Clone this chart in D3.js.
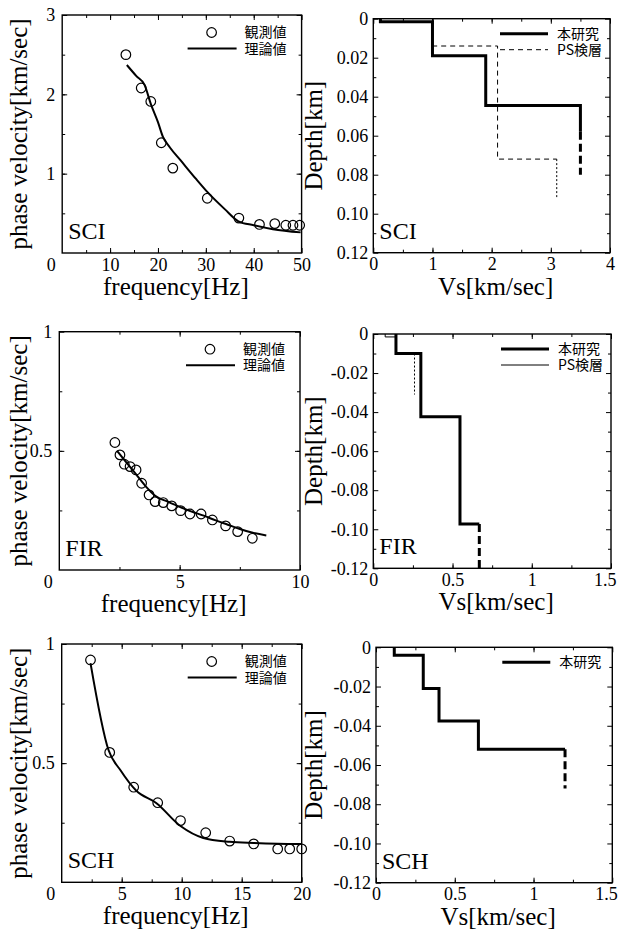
<!DOCTYPE html>
<html><head><meta charset="utf-8">
<script src="https://cdn.jsdelivr.net/npm/d3@7"></script>
<style>body{margin:0;background:#fff}svg{display:block}</style>
</head><body><svg id="c" width="619" height="931"></svg>
<script>
// ---------------- DATA ----------------
// SCI dispersion
const sciObsFreq  = [13.3, 16.5, 18.5, 20.7, 23.1, 30.3, 36.9, 41.2, 44.4, 46.7, 48.2, 49.6];
const sciObsVel   = [2.50, 2.08, 1.91, 1.39, 1.07, 0.69, 0.44, 0.36, 0.37, 0.35, 0.35, 0.35];
const sciTheoFreq = [13.5, 15.5, 17.2, 18.5, 20.0, 21.0, 22.5, 24.7, 28.0, 30.3, 34.0, 36.8, 40.0, 44.0, 49.8];
const sciTheoVel  = [2.37, 2.23, 2.12, 1.88, 1.65, 1.47, 1.33, 1.17, 0.93, 0.77, 0.55, 0.40, 0.35, 0.30, 0.26];
// FIR dispersion
const firObsFreq  = [2.31, 2.52, 2.70, 2.94, 3.19, 3.42, 3.73, 3.98, 4.32, 4.67, 5.04, 5.43, 5.89, 6.36, 6.91, 7.41, 8.02];
const firObsVel   = [0.535, 0.483, 0.444, 0.434, 0.420, 0.364, 0.315, 0.287, 0.283, 0.269, 0.249, 0.235, 0.235, 0.210, 0.185, 0.161, 0.133];
const firTheoFreq = [2.4, 2.8, 3.2, 3.6, 4.0, 4.5, 5.0, 5.5, 6.0, 6.5, 7.0, 7.5, 8.0, 8.6];
const firTheoVel  = [0.50, 0.45, 0.40, 0.35, 0.31, 0.287, 0.265, 0.245, 0.228, 0.208, 0.190, 0.172, 0.157, 0.145];
// SCH dispersion
const schObsFreq  = [2.4, 4.0, 6.0, 8.0, 9.9, 12.0, 14.0, 16.0, 18.0, 19.0, 20.0];
const schObsVel   = [0.933, 0.545, 0.399, 0.334, 0.259, 0.208, 0.173, 0.161, 0.140, 0.140, 0.140];
const schTheoFreq = [2.4, 3.9, 4.9, 6.2, 7.9, 9.9, 11.8, 14.0, 16.0, 18.0, 20.0];
const schTheoVel  = [0.92, 0.555, 0.47, 0.385, 0.332, 0.236, 0.186, 0.170, 0.165, 0.162, 0.161];

// Vs profiles (layer velocity, layer top depth, [end of solid part, end of dashed part])
const sciStudyVs = [0.12, 1.0, 1.9, 3.5];
const sciStudyTop = [0, 0.0015, 0.019, 0.0445];
const sciStudyEnd = [0.058, 0.080];
const sciPsVs = [1.0, 2.1, 3.1];
const sciPsTop = [0, 0.014, 0.072];
const sciPsEnd = [0.072, 0.092];

const firStudyVs = [0.143, 0.30, 0.547, 0.669];
const firStudyTop = [0, -0.010, -0.0424, -0.0973];
const firStudyEnd = [-0.0973, -0.12];
const firPsVs = [0.075, 0.143, 0.26];
const firPsTop = [0, -0.0015, -0.010];
const firPsEnd = [-0.010, -0.031];

const schStudyVs = [0.116, 0.30, 0.40, 0.65, 1.2];
const schStudyTop = [0, -0.004, -0.021, -0.0376, -0.052];
const schStudyEnd = [-0.052, -0.072];

// tick labels
const sciFreqTicks = [10, 20, 30, 40, 50];
const sciVelTicks = [1, 2, 3];
const firFreqTicks = [5, 10];
const firVelTicks = [0.5, 1];
const schFreqTicks = [5, 10, 15, 20];
const schVelTicks = [0.5, 1];
const sciVsTicks = [0, 1, 2, 3, 4];
const sciDepthTicks = [0, 0.02, 0.04, 0.06, 0.08, 0.10, 0.12];
const vsTicks15 = [0, 0.5, 1, 1.5];
const negDepthTicks = [0, -0.02, -0.04, -0.06, -0.08, -0.10, -0.12];

const legendObs = "観測値", legendTheo = "理論値", legendStudy = "本研究", legendPs = "PS検層";

// ---------------- DRAWING ----------------
const svg = d3.select("#c");
const SERIF = "'Liberation Serif','Times New Roman',serif";
const CJK = "'Noto Sans CJK JP','Noto Sans CJK SC',sans-serif";
const zip = (a, b) => a.map((v, i) => [v, b[i]]);

function drawAxes(g, x, y, o) {
  const [x0, x1] = x.range();
  const [yt, yb] = d3.extent(y.range());
  const ax = (fn, scale, vals, size, tr, fmt, pad) => {
    const a = fn(scale).tickValues(vals).tickSize(size).tickSizeOuter(0).tickPadding(pad || 3);
    a.tickFormat(fmt || (() => ""));
    const s = g.append("g").attr("transform", tr).call(a);
    s.select(".domain").remove();
    s.selectAll(".tick line").attr("stroke", "#000").attr("stroke-width", 1);
    s.attr("font-family", SERIF).attr("font-size", 18);
    s.selectAll("text").attr("fill", "#000");
    return s;
  };
  const bt = `translate(0,${yb})`, tp = `translate(0,${yt})`, lf = `translate(${x0},0)`, rt = `translate(${x1},0)`;
  ax(d3.axisBottom, x, o.xMinor, -3, bt);
  ax(d3.axisTop, x, o.xMinor, -3, tp);
  ax(d3.axisLeft, y, o.yMinor, -3, lf);
  ax(d3.axisRight, y, o.yMinor, -3, rt);
  const xb = ax(d3.axisBottom, x, o.xMajor, -5, bt, o.xFmt, 5);
  if (o.lastEnd) {
    xb.selectAll(".tick text").filter((d, i, n) => i === n.length - 1)
      .attr("text-anchor", "end").attr("dx", 5);
  }
  ax(d3.axisTop, x, o.xMajor, -5, tp);
  ax(d3.axisLeft, y, o.yMajor, -5, lf, o.yFmt, o.yPad || 6);
  ax(d3.axisRight, y, o.yMajor, -5, rt);
  g.append("rect").attr("x", x0).attr("y", yt).attr("width", x1 - x0).attr("height", yb - yt)
    .attr("fill", "none").attr("stroke", "#000").attr("stroke-width", 1.4);
}

function titles(g, x, y, xt, yt, label, ytx, xtOff) {
  const [x0, x1] = x.range();
  const [ytop, yb] = d3.extent(y.range());
  g.append("text").attr("x", (x0 + x1) / 2 + (xtOff || 0)).attr("y", yb + 42).attr("text-anchor", "middle")
    .attr("font-family", SERIF).attr("font-size", 25).text(xt);
  g.append("text").attr("transform", `translate(${ytx},${(yb + ytop) / 2}) rotate(-90)`).attr("text-anchor", "middle")
    .attr("font-family", SERIF).attr("font-size", 25).text(yt);
  g.append("text").attr("x", x0 + 6).attr("y", yb - 14)
    .attr("font-family", SERIF).attr("font-size", 24).text(label);
}

function freqPanel(box, xMax, yMax, obsF, obsV, thF, thV, xTicks, yTicks, xMinorStep, yMinorStep, label) {
  const g = svg.append("g");
  const x = d3.scaleLinear().domain([0, xMax]).range([box[0], box[1]]);
  const y = d3.scaleLinear().domain([0, yMax]).range([box[3], box[2]]);
  drawAxes(g, x, y, {
    xMajor: xTicks, xMinor: d3.range(xMinorStep, xMax, xMinorStep),
    yMajor: yTicks, yMinor: d3.range(yMinorStep, yMax, yMinorStep),
    xFmt: d => String(d), yFmt: d => String(d), yPad: 7
  });
  // shared corner zero
  g.append("text").attr("x", x(0) - 11).attr("y", y(0) + 18).attr("text-anchor", "middle")
    .attr("font-family", SERIF).attr("font-size", 18).text("0");
  const line = d3.line().x(d => x(d[0])).y(d => y(d[1])).curve(d3.curveMonotoneX);
  g.append("path").attr("d", line(zip(thF, thV))).attr("fill", "none").attr("stroke", "#000").attr("stroke-width", 2);
  g.selectAll("circle.o").data(zip(obsF, obsV)).join("circle")
    .attr("cx", d => x(d[0])).attr("cy", d => y(d[1])).attr("r", 4.8)
    .attr("fill", "none").attr("stroke", "#000").attr("stroke-width", 1.2);
  // legend
  const lx = box[1], ly = box[2];
  g.append("circle").attr("cx", lx - 90).attr("cy", ly + 17.5).attr("r", 4.8).attr("fill", "none").attr("stroke", "#000").attr("stroke-width", 1.2);
  g.append("text").attr("x", lx - 57).attr("y", ly + 22).attr("font-family", CJK).attr("font-size", 14).text(legendObs);
  g.append("line").attr("x1", lx - 114).attr("x2", lx - 65).attr("y1", ly + 33.5).attr("y2", ly + 33.5).attr("stroke", "#000").attr("stroke-width", 2);
  g.append("text").attr("x", lx - 57).attr("y", ly + 38.5).attr("font-family", CJK).attr("font-size", 14).text(legendTheo);
  titles(g, x, y, "frequency[Hz]", "phase velocity[km/sec]", label, 27, -6);
}

function stepPoints(vs, top, end) {
  const pts = [];
  vs.forEach((v, i) => { pts.push([v, top[i]]); pts.push([v, i < vs.length - 1 ? top[i + 1] : end[0]]); });
  return pts;
}

function depthPanel(box, xMax, yDomain, xTicks, yTicks, xMinorStep, label, study, ps, psBodyDash, legendPsDash) {
  const g = svg.append("g");
  const x = d3.scaleLinear().domain([0, xMax]).range([box[0], box[1]]);
  const y = d3.scaleLinear().domain(yDomain).range([box[2], box[3]]);
  const sgn = Math.sign(yDomain[1]);
  drawAxes(g, x, y, {
    xMajor: xTicks, xMinor: d3.range(xMinorStep, xMax, xMinorStep),
    yMajor: yTicks, yMinor: d3.range(1, 12, 2).map(k => sgn * k / 100),
    xFmt: d => String(d), yFmt: d => d === 0 ? "0" : d.toFixed(2), yPad: 5,
    lastEnd: xMax < 2
  });
  const line = d3.line().x(d => x(d[0])).y(d => y(d[1]));
  if (ps) {
    g.append("path").attr("d", line(stepPoints(ps[0], ps[1], ps[2]))).attr("fill", "none").attr("stroke", "#000")
      .attr("stroke-width", 1).attr("stroke-dasharray", psBodyDash);
    const last = ps[0][ps[0].length - 1];
    g.append("path").attr("d", line([[last, ps[2][0]], [last, ps[2][1]]])).attr("fill", "none").attr("stroke", "#000")
      .attr("stroke-width", 1).attr("stroke-dasharray", "2,2");
  }
  g.append("path").attr("d", line(stepPoints(study[0], study[1], study[2]))).attr("fill", "none").attr("stroke", "#000")
    .attr("stroke-width", 3).attr("stroke-linejoin", "miter");
  const lastV = study[0][study[0].length - 1];
  g.append("path").attr("d", line([[lastV, study[2][0]], [lastV, study[2][1]]])).attr("fill", "none").attr("stroke", "#000")
    .attr("stroke-width", 3).attr("stroke-dasharray", "8,4");
  // legend
  const lx = box[1], ly = box[2];
  g.append("line").attr("x1", lx - 110).attr("x2", lx - 62).attr("y1", ly + 15).attr("y2", ly + 15).attr("stroke", "#000").attr("stroke-width", 3);
  g.append("text").attr("x", lx - 53).attr("y", ly + 20).attr("font-family", CJK).attr("font-size", 14).text(legendStudy);
  if (ps) {
    g.append("line").attr("x1", lx - 110).attr("x2", lx - 62).attr("y1", ly + 31).attr("y2", ly + 31).attr("stroke", "#000")
      .attr("stroke-width", 1).attr("stroke-dasharray", legendPsDash);
    g.append("text").attr("x", lx - 53).attr("y", ly + 36).attr("font-family", CJK).attr("font-size", 14).text(legendPs);
  }
  titles(g, x, y, "Vs[km/sec]", "Depth[km]", label, 322, 4);
}

// boxes: [left, right, top, bottom]
freqPanel([62.2, 301.6, 15, 253], 50, 3, sciObsFreq, sciObsVel, sciTheoFreq, sciTheoVel, sciFreqTicks, sciVelTicks, 5, 0.5, "SCI");
freqPanel([59.3, 300, 331.7, 570], 10, 1, firObsFreq, firObsVel, firTheoFreq, firTheoVel, firFreqTicks, firVelTicks, 2.5, 0.25, "FIR");
freqPanel([61.7, 301.7, 644, 882.3], 20, 1, schObsFreq, schObsVel, schTheoFreq, schTheoVel, schFreqTicks, schVelTicks, 2.5, 0.25, "SCH");

depthPanel([373.3, 610, 18.7, 252.7], 4, [0, 0.12], sciVsTicks, sciDepthTicks, 0.5, "SCI",
  [sciStudyVs, sciStudyTop, sciStudyEnd], [sciPsVs, sciPsTop, sciPsEnd], "5,4", "5,4");
depthPanel([373.3, 611, 334, 568.3], 1.5, [0, -0.12], vsTicks15, negDepthTicks, 0.25, "FIR",
  [firStudyVs, firStudyTop, firStudyEnd], [firPsVs, firPsTop, firPsEnd], null, null);
depthPanel([376, 612.3, 647.3, 882.7], 1.5, [0, -0.12], vsTicks15, negDepthTicks, 0.25, "SCH",
  [schStudyVs, schStudyTop, schStudyEnd], null, null, null);
</script></body></html>
